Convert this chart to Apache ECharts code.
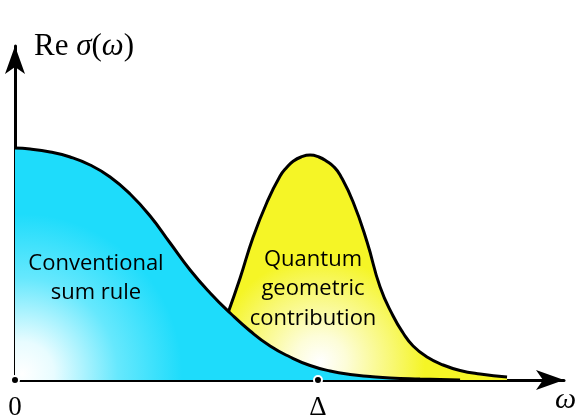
<!DOCTYPE html>
<html>
<head>
<meta charset="utf-8">
<script src="https://cdn.jsdelivr.net/npm/echarts@6/dist/echarts.min.js"></script>
<style>
  html, body { margin: 0; padding: 0; background: #fff; }
  #chart { width: 580px; height: 415px; }
</style>
</head>
<body>
<div id="chart"></div>
<script>
// omega in units of Delta, Re sigma in arbitrary units
const drudeOmega = [0, 0.050, 0.116, 0.182, 0.248, 0.314, 0.380, 0.446, 0.512, 0.578, 0.644, 0.710,
                    0.776, 0.842, 0.908, 0.974, 1.040, 1.106, 1.172, 1.238, 1.337, 1.469];
const drudeSigma = [2.32, 2.31, 2.28, 2.23, 2.15, 2.03, 1.86, 1.64, 1.37, 1.10, 0.87, 0.67,
                    0.49, 0.34, 0.23, 0.145, 0.09, 0.055, 0.035, 0.02, 0.01, 0.0];

const geomOmega = [0.703, 0.743, 0.785, 0.832, 0.875, 0.898, 0.917, 0.944, 0.974, 1.003, 1.030, 1.053, 1.073,
                   1.116, 1.162, 1.205, 1.248, 1.281, 1.314, 1.360, 1.413, 1.469, 1.535, 1.624];
const geomSigma = [0.67, 1.02, 1.42, 1.78, 2.04, 2.13, 2.185, 2.23, 2.25, 2.23, 2.185, 2.13, 2.05,
                   1.78, 1.38, 0.93, 0.64, 0.47, 0.34, 0.23, 0.15, 0.095, 0.06, 0.03];

const tickValues = [0, 1];
const tickLabels = ['0', 'Δ'];

const zip = (xs, ys) => xs.map((x, i) => [x, ys[i]]);

const chart = echarts.init(document.getElementById('chart'));

const blueFill = new echarts.graphic.RadialGradient(22, 374, 160, [
    { offset: 0, color: '#ffffff' },
    { offset: 0.2, color: '#e8fcff' },
    { offset: 0.6, color: '#66e8fd' },
    { offset: 1, color: '#1edcfb' }
], true);

const yellowFill = new echarts.graphic.RadialGradient(320, 362, 105, [
    { offset: 0, color: '#ffffff' },
    { offset: 0.25, color: '#fdfdd8' },
    { offset: 0.7, color: '#f8f870' },
    { offset: 1, color: '#f5f526' }
], true);

const sans = { fontFamily: 'Open Sans', fontSize: 22, fill: '#000', align: 'center', verticalAlign: 'middle' };

chart.setOption({
    animation: false,
    grid: { left: 15, right: 16, top: 46, bottom: 35, containLabel: false, outerBoundsMode: 'none' },
    xAxis: {
        type: 'value',
        min: 0,
        max: 1.812,
        splitLine: { show: false },
        axisLine: {
            onZero: false,
            symbol: ['none', 'arrow'],
            symbolSize: [15, 28],
            lineStyle: { color: '#000', width: 3 }
        },
        axisTick: { show: false },
        axisLabel: {
            customValues: tickValues,
            formatter: v => tickLabels[tickValues.indexOf(v)] || '',
            fontFamily: 'Liberation Serif',
            fontSize: 27,
            color: '#000',
            margin: 14
        }
    },
    yAxis: {
        type: 'value',
        min: 0,
        max: 3.34,
        splitLine: { show: false },
        axisLine: {
            symbol: ['none', 'arrow'],
            symbolSize: [15, 28],
            lineStyle: { color: '#000', width: 3 }
        },
        axisTick: { show: false },
        axisLabel: { show: false }
    },
    graphic: [
        {
            type: 'text', left: 34, top: 31, z: 100,
            style: {
                text: '{r|Re }{i|σ}{r|(}{i|ω}{r|)}',
                rich: {
                    r: { fontFamily: 'Liberation Serif', fontSize: 31, fill: '#000' },
                    i: { fontFamily: 'Liberation Serif', fontStyle: 'italic', fontSize: 31, fill: '#000' }
                }
            }
        },
        {
            type: 'text', left: 555, top: 385, z: 100,
            style: { text: 'ω', fontFamily: 'Liberation Serif', fontStyle: 'italic', fontSize: 30, fill: '#000' }
        },
        {
            type: 'text', x: 96, y: 278, z: 100,
            style: Object.assign({ text: 'Conventional\nsum rule', lineHeight: 29 }, sans)
        },
        {
            type: 'text', x: 313, y: 289, z: 100,
            style: Object.assign({ text: 'Quantum\ngeometric\ncontribution', lineHeight: 29.5 }, sans)
        }
    ],
    series: [
        {
            name: 'geometric',
            type: 'line',
            smooth: true,
            symbol: 'none',
            data: zip(geomOmega, geomSigma),
            lineStyle: { color: '#000', width: 3 },
            areaStyle: { color: yellowFill, opacity: 1 },
            z: 2
        },
        {
            name: 'conventional',
            type: 'line',
            smooth: true,
            symbol: 'none',
            data: zip(drudeOmega, drudeSigma),
            lineStyle: { color: '#000', width: 3 },
            areaStyle: { color: blueFill, opacity: 1 },
            z: 3
        },
        {
            name: 'marks',
            type: 'scatter',
            symbolSize: 8,
            data: tickValues.map(v => [v, 0]),
            itemStyle: { color: '#000', borderColor: '#fff', borderWidth: 2, opacity: 1 },
            z: 5
        }
    ]
});
</script>
</body>
</html>
